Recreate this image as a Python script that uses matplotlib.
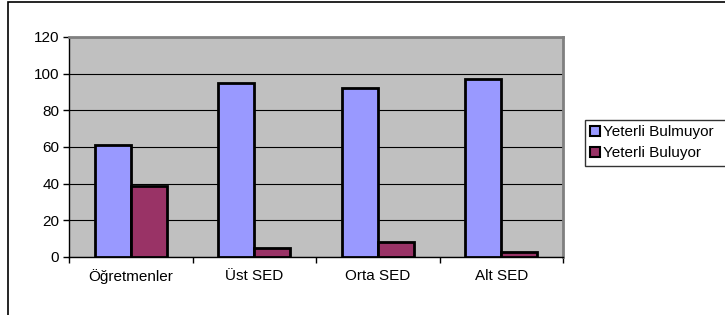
'''
Bar chart: Yeterli Bulmuyor / Yeterli Buluyor by group.
'''
import numpy as np
import matplotlib.pyplot as plt
from matplotlib.patches import Patch, Rectangle

# Chart data
categories = ["Öğretmenler", "Üst SED", "Orta SED", "Alt SED"]
bulmuyor = [61, 95, 92, 97]
buluyor = [39, 5, 8, 3]
series_names = ["Yeterli Bulmuyor", "Yeterli Buluyor"]

plt.rcParams['font.family'] = ['Liberation Sans', 'DejaVu Sans']
FS = 11

W, H = 725, 315
fig = plt.figure(figsize=(W / 100, H / 100), dpi=100)
fig.patch.set_facecolor("white")

# Plot area placement (pixel measures from the reference)
ax = fig.add_axes([69 / W, 1 - 257 / H, (563 - 69) / W, (257 - 37) / H])
ax.set_facecolor("#C0C0C0")

x = np.arange(len(categories))
bar_w = 0.29
ax.bar(x - bar_w / 2, bulmuyor, width=bar_w, color="#9999FF",
       edgecolor="black", linewidth=2, zorder=3)
ax.bar(x + bar_w / 2, buluyor, width=bar_w, color="#993366",
       edgecolor="black", linewidth=2, zorder=3)

ax.set_xlim(-0.5, len(categories) - 0.5)
ax.set_ylim(0, 120)
ax.set_yticks(np.arange(0, 121, 20))
ax.yaxis.grid(True, color="black", linewidth=0.8, zorder=1)
ax.set_axisbelow(True)

# category labels centred, tick marks between categories
ax.set_xticks(x)
ax.set_xticklabels(categories, fontsize=FS)
ax.tick_params(axis="x", which="major", length=0, pad=9)
ax.set_xticks(np.arange(-0.5, len(categories)), minor=True)
ax.tick_params(axis="x", which="minor", length=4, width=1, direction="out", color="black")
ax.tick_params(axis="y", length=4, width=1, direction="out", labelsize=FS, pad=3)

for side in ("left", "bottom"):
    ax.spines[side].set_color("black")
    ax.spines[side].set_linewidth(1)
for side in ("top", "right"):
    ax.spines[side].set_color("#808080")
    ax.spines[side].set_linewidth(2)

# Legend box (runs off the right edge, as in the reference)
handles = [Patch(facecolor="#9999FF", edgecolor="black", linewidth=1.5),
           Patch(facecolor="#993366", edgecolor="black", linewidth=1.5)]
leg = fig.legend(handles, series_names, loc="upper left",
                 bbox_to_anchor=(585 / W, 1 - 173 / H, 150 / W, (173 - 120) / H),
                 mode="expand", borderaxespad=0, fontsize=FS,
                 handlelength=0.65, handleheight=0.65, handletextpad=0.15,
                 borderpad=0.35, labelspacing=0.45, fancybox=False,
                 frameon=True, edgecolor="black")
leg.get_frame().set_linewidth(1)

# Outer chart frame (clipped at right and bottom in the reference)
fig.patches.append(Rectangle((8 / W, -0.05), 1.1, 1.05 - 2 / H,
                             transform=fig.transFigure, fill=False,
                             edgecolor="black", linewidth=1.2, clip_on=False))

fig.savefig("out.png", dpi=100)
